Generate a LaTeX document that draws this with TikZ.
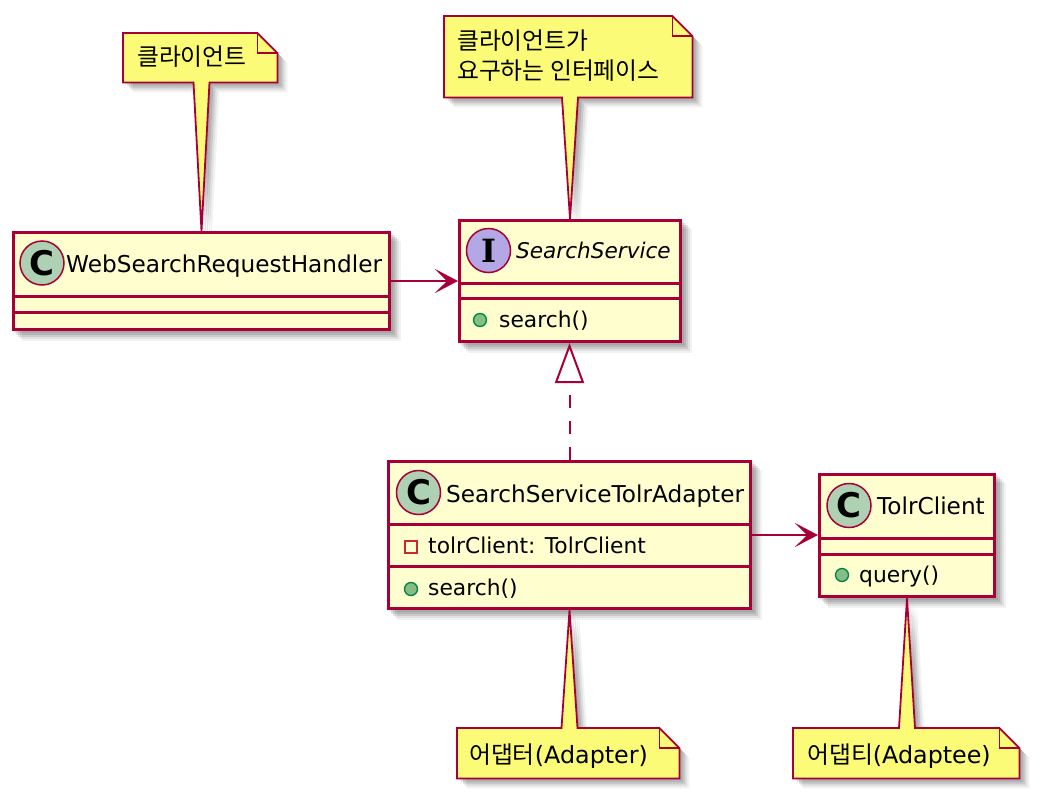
\documentclass[tikz,border=0pt]{standalone}
\usepackage{fontspec}
\setmainfont{DejaVu Sans}
\newfontfamily\krfont{Noto Sans CJK KR}
\newfontfamily\dvserif{DejaVu Serif}
\usetikzlibrary{arrows.meta,calc}
\definecolor{umlred}{HTML}{A80036}
\definecolor{classfill}{HTML}{FEFECE}
\definecolor{notefill}{HTML}{FBFB77}
\definecolor{cgreen}{HTML}{ADD1B2}
\definecolor{ipurple}{HTML}{B4A7E5}
\definecolor{pubfill}{HTML}{84BE84}
\definecolor{publine}{HTML}{038048}
\definecolor{privline}{HTML}{C82930}
\pgfdeclarelayer{bg}
\pgfsetlayers{bg,main}
\tikzset{
  classbox/.style={draw=umlred, fill=classfill, line width=3pt, inner sep=0pt, anchor=north west},
  divider/.style={draw=umlred, line width=3pt},
  notebox/.style={draw=none, inner sep=0pt, anchor=north west},
  noteshape/.style={draw=umlred, fill=notefill, line width=1.8pt, line join=miter},
  foldline/.style={draw=umlred, line width=1.8pt},
  classicon/.style={circle, draw=umlred, line width=1.5pt, minimum size=44pt, inner sep=0pt, font=\fontsize{34}{34}\selectfont\bfseries},
  pubicon/.style={circle, draw=publine, fill=pubfill, line width=1.3pt, minimum size=13pt, inner sep=0pt},
  privicon/.style={rectangle, draw=privline, line width=1.5pt, minimum size=12pt, inner sep=0pt},
  cname/.style={anchor=base west, inner sep=0pt, font=\fontsize{23.2}{28}\selectfont},
  iname/.style={anchor=base west, inner sep=0pt, font=\fontsize{21.6}{28}\selectfont\itshape},
  member/.style={anchor=base west, inner sep=0pt, font=\fontsize{21.8}{26}\selectfont},
  ntext/.style={anchor=base west, inner sep=0pt, font=\fontsize{23.8}{28}\selectfont},
  assoc/.style={draw=umlred, line width=2pt, -{Stealth[length=23pt,width=24pt,inset=12pt]}},
  realize/.style={draw=umlred, line width=2pt, dash pattern=on 13pt off 13pt, -{Triangle[length=40pt,width=29pt,fill=white]}}
}
\newcommand\notetaildown[5]{([shift={(#4,#5)}]#1.north west) -- ([shift={(#4-20,#5)}]#1.north east) -- ([shift={(#4,#5+20)}]#1.north east) -- ([shift={(#4,#5)}]#1.south east) -- ([shift={(#4+8,#5)}]#2) -- ([shift={(#4,#5)}]#3) -- ([shift={(#4-8,#5)}]#2) -- ([shift={(#4,#5)}]#1.south west) -- cycle}
\newcommand\notetailup[5]{([shift={(#4,#5)}]#1.north west) -- ([shift={(#4-8,#5)}]#2) -- ([shift={(#4,#5)}]#3) -- ([shift={(#4+8,#5)}]#2) -- ([shift={(#4-20,#5)}]#1.north east) -- ([shift={(#4,#5+20)}]#1.north east) -- ([shift={(#4,#5)}]#1.south east) -- ([shift={(#4,#5)}]#1.south west) -- cycle}
\begin{document}
\begin{tikzpicture}[x=1pt,y=-1pt]
\useasboundingbox (0,0) rectangle (1041,800);

% class boxes
\node[classbox, minimum width=376pt, minimum height=97pt] (web) at (12,231) {};
\node[classbox, minimum width=221pt, minimum height=121pt] (ss) at (458,219) {};
\node[classbox, minimum width=362pt, minimum height=147pt] (ad) at (387,460) {};
\node[classbox, minimum width=175pt, minimum height=122pt] (tc) at (818,473) {};

% dividers
\draw[divider] (web.west |- 0,296) -- (web.east |- 0,296);
\draw[divider] (web.west |- 0,312) -- (web.east |- 0,312);
\draw[divider] (ss.west |- 0,283) -- (ss.east |- 0,283);
\draw[divider] (ss.west |- 0,298) -- (ss.east |- 0,298);
\draw[divider] (ad.west |- 0,524) -- (ad.east |- 0,524);
\draw[divider] (ad.west |- 0,566) -- (ad.east |- 0,566);
\draw[divider] (tc.west |- 0,538) -- (tc.east |- 0,538);
\draw[divider] (tc.west |- 0,554) -- (tc.east |- 0,554);

% icons and names
\node[classicon, fill=cgreen] (webc) at (42,263) {C};
\node[cname] (webn) at (66,272) {WebSearchRequestHandler};
\node[classicon, fill=ipurple, font=\fontsize{32}{32}\selectfont\dvserif\bfseries] (ssc) at (488.5,250.5) {I};
\node[iname] (ssn) at (516,258) {SearchService};
\node[classicon, fill=cgreen] (adc) at (418.5,492.5) {C};
\node[cname] (adn) at (446,502) {SearchServiceTolrAdapter};
\node[classicon, fill=cgreen] (tcc) at (849,505.5) {C};
\node[cname] (tcn) at (877,514) {TolrClient};

% members
\node[pubicon] (ssm) at (480,320) {};
\node[member] (ssmt) at (499,327) {search()};
\node[privicon] (adf) at (411,547) {};
\node[member] (adft) at (428,553) {tolrClient: TolrClient};
\node[pubicon] (adm) at (411,589) {};
\node[member] (admt) at (428,595) {search()};
\node[pubicon] (tcm) at (842,575) {};
\node[member] (tcmt) at (859,582) {query()};

% notes
\node[notebox, minimum width=154pt, minimum height=49pt] (n1) at (123,33) {};
\node[notebox, minimum width=248pt, minimum height=81pt] (n2) at (444,16) {};
\node[notebox, minimum width=222pt, minimum height=50pt] (n3) at (457,728) {};
\node[notebox, minimum width=226pt, minimum height=50pt] (n4) at (793,728) {};
\coordinate (b1) at (n1.south -| web.north);
\coordinate (b2) at (n2.south -| ss.north);
\coordinate (b3) at (n3.north -| ad.south);
\coordinate (b4) at (n4.north -| tc.south);

\path[noteshape] \notetaildown{n1}{b1}{web.north}{0}{0};
\path[noteshape] \notetaildown{n2}{b2}{ss.north}{0}{0};
\path[noteshape] \notetailup{n3}{b3}{ad.south}{0}{0};
\path[noteshape] \notetailup{n4}{b4}{tc.south}{0}{0};
\foreach \nn in {n1,n2,n3,n4}
  \draw[foldline] ([xshift=-20pt]\nn.north east) -- ([shift={(-20,20)}]\nn.north east) -- ([yshift=-20pt]\nn.north east);

\node[ntext] (n1t) at (137,66) {\krfont 클라이언트};
\node[ntext] (n2t) at (457,50) {\krfont 클라이언트가};
\node[ntext] (n2u) at (457,79) {\krfont 요구하는 인터페이스};
\node[ntext] (n3t) at (469,763) {{\krfont 어댑터}(Adapter)};
\node[ntext] (n4t) at (807,763) {{\krfont 어댑티}(Adaptee)};

% connectors
\draw[assoc] (web.east) -- (ss.west);
\draw[assoc] (ad.east) -- (ad.east -| tc.west);
\draw[realize] (ad.north) -- (ad.north |- ss.south);

% shadows
\begin{pgfonlayer}{bg}
\foreach \sd/\op in {2/0.08,4/0.1,6/0.1,8/0.07,10/0.05} {
  \foreach \cn in {web,ss,ad,tc}
    \fill[black,opacity=\op] ([shift={(\sd,\sd)}]\cn.north west) rectangle ([shift={(\sd,\sd)}]\cn.south east);
  \fill[black,opacity=\op] \notetaildown{n1}{b1}{web.north}{\sd}{\sd};
  \fill[black,opacity=\op] \notetaildown{n2}{b2}{ss.north}{\sd}{\sd};
  \fill[black,opacity=\op] \notetailup{n3}{b3}{ad.south}{\sd}{\sd};
  \fill[black,opacity=\op] \notetailup{n4}{b4}{tc.south}{\sd}{\sd};
}
\end{pgfonlayer}
\end{tikzpicture}
\end{document}
